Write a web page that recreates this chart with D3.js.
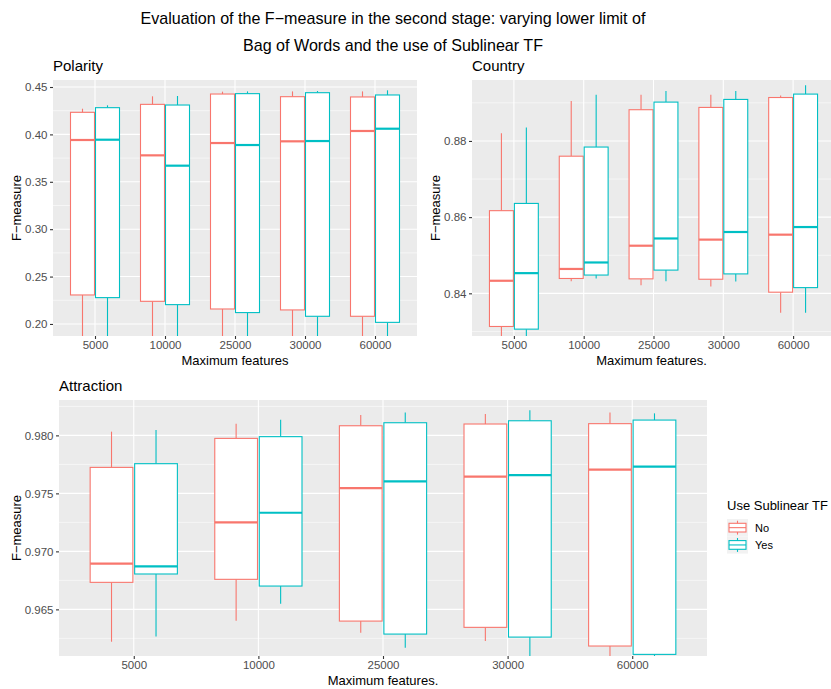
<!DOCTYPE html>
<html>
<head>
<meta charset="utf-8">
<script src="https://cdn.jsdelivr.net/npm/d3@7"></script>
<style>
body { margin: 0; background: #fff; }
svg { display: block; font-family: "Liberation Sans", Arial, sans-serif; }
</style>
</head>
<body>
<svg id="chart" width="831" height="689"></svg>
<script>
// ---- data ----
const categories = ["5000", "10000", "25000", "30000", "60000"];
const groups = ["No", "Yes"];
const colors = ["#F8766D", "#00BFC4"];
// each entry: [lower whisker, q1, median, q3, upper whisker]
const polarityNo = [
  [0.170, 0.2306, 0.3941, 0.4233, 0.4271],
  [0.170, 0.2239, 0.3779, 0.4317, 0.4402],
  [0.170, 0.2158, 0.3909, 0.4426, 0.4451],
  [0.170, 0.2148, 0.3927, 0.4398, 0.4454],
  [0.170, 0.2081, 0.4036, 0.4395, 0.4454]
];
const polarityYes = [
  [0.170, 0.2278, 0.3944, 0.4282, 0.4307],
  [0.170, 0.2204, 0.3670, 0.4310, 0.4405],
  [0.170, 0.2120, 0.3888, 0.4430, 0.4454],
  [0.170, 0.2081, 0.3930, 0.4440, 0.4458],
  [0.170, 0.2017, 0.4060, 0.4416, 0.4465]
];
const countryNo = [
  [0.8260, 0.8313, 0.8433, 0.8617, 0.8820],
  [0.8432, 0.8439, 0.8464, 0.8760, 0.8905],
  [0.8421, 0.8438, 0.8525, 0.8882, 0.8921],
  [0.8418, 0.8437, 0.8541, 0.8888, 0.8921],
  [0.8349, 0.8403, 0.8554, 0.8914, 0.8919]
];
const countryYes = [
  [0.8260, 0.8306, 0.8453, 0.8636, 0.8835],
  [0.8439, 0.8448, 0.8481, 0.8784, 0.8921],
  [0.8432, 0.8461, 0.8544, 0.8902, 0.8931],
  [0.8431, 0.8451, 0.8561, 0.8909, 0.8931],
  [0.8349, 0.8415, 0.8574, 0.8923, 0.8946]
];
const attractionNo = [
  [0.96221, 0.96733, 0.96894, 0.97724, 0.98032],
  [0.96402, 0.96759, 0.97250, 0.97974, 0.98101],
  [0.96299, 0.96399, 0.97546, 0.98083, 0.98175],
  [0.96227, 0.96345, 0.97644, 0.98098, 0.98184],
  [0.96000, 0.96184, 0.97704, 0.98101, 0.98198]
];
const attractionYes = [
  [0.96267, 0.96805, 0.96871, 0.97756, 0.98046],
  [0.96549, 0.96701, 0.97333, 0.97989, 0.98135],
  [0.96169, 0.96287, 0.97603, 0.98109, 0.98198],
  [0.96000, 0.96261, 0.97658, 0.98126, 0.98216],
  [0.96000, 0.96112, 0.97730, 0.98132, 0.98190]
];
const polarityTicks = [0.20, 0.25, 0.30, 0.35, 0.40, 0.45];
const polarityMinor = [0.175, 0.225, 0.275, 0.325, 0.375, 0.425];
const countryTicks = [0.84, 0.86, 0.88];
const countryMinor = [0.83, 0.85, 0.87, 0.89];
const attractionTicks = [0.965, 0.970, 0.975, 0.980];
const attractionMinor = [0.9625, 0.9675, 0.9725, 0.9775, 0.9825];
const titleLines = ["Evaluation of the F\u2212measure in the second stage: varying lower limit of",
                    "Bag of Words and the use of Sublinear TF"];

// ---- drawing ----
const svg = d3.select("#chart");
svg.append("rect").attr("width", 831).attr("height", 689).attr("fill", "#fff");

svg.append("g").selectAll("text").data(titleLines).join("text")
  .attr("x", 393).attr("y", (d, i) => 24 + i * 27)
  .attr("text-anchor", "middle").attr("font-size", 16.1).attr("fill", "#000")
  .text(d => d);

let clipId = 0;
function panel(cfg) {
  const { x0, x1, y0, y1, domain, ticks, minor, fmt, no, yes, title, xTitle, yLabelX } = cfg;
  const g = svg.append("g");
  const x = d3.scalePoint().domain(categories).range([x0, x1]).padding(0.6);
  const y = d3.scaleLinear().domain(domain).range([y1, y0]);
  const step = x.step();
  const sub = d3.scaleBand().domain(groups).range([-0.35 * step, 0.35 * step]).paddingInner(0.04);

  g.append("rect").attr("x", x0).attr("y", y0).attr("width", x1 - x0).attr("height", y1 - y0).attr("fill", "#EBEBEB");
  // minor grid
  g.append("g").selectAll("line").data(minor.filter(v => y(v) >= y0 && y(v) <= y1)).join("line")
    .attr("x1", x0).attr("x2", x1).attr("y1", d => y(d)).attr("y2", d => y(d))
    .attr("stroke", "#fff").attr("stroke-width", 0.55);
  // major grid
  g.append("g").selectAll("line").data(ticks).join("line")
    .attr("x1", x0).attr("x2", x1).attr("y1", d => y(d)).attr("y2", d => y(d))
    .attr("stroke", "#fff").attr("stroke-width", 1.1);
  g.append("g").selectAll("line").data(categories).join("line")
    .attr("x1", d => x(d)).attr("x2", d => x(d)).attr("y1", y0).attr("y2", y1)
    .attr("stroke", "#fff").attr("stroke-width", 1.1);

  const id = "clip" + (clipId++);
  svg.append("clipPath").attr("id", id).append("rect")
    .attr("x", x0).attr("y", y0).attr("width", x1 - x0).attr("height", y1 - y0);
  const boxes = g.append("g").attr("clip-path", `url(#${id})`);
  [no, yes].forEach((series, gi) => {
    const col = colors[gi];
    series.forEach((s, ci) => {
      const cx = x(categories[ci]) + sub(groups[gi]);
      const w = sub.bandwidth();
      const mid = cx + w / 2;
      const bg = boxes.append("g");
      bg.append("line").attr("x1", mid).attr("x2", mid).attr("y1", y(s[4])).attr("y2", y(s[3]))
        .attr("stroke", col).attr("stroke-width", 1.1);
      bg.append("line").attr("x1", mid).attr("x2", mid).attr("y1", y(s[1])).attr("y2", y(s[0]))
        .attr("stroke", col).attr("stroke-width", 1.1);
      bg.append("rect").attr("x", cx).attr("y", y(s[3])).attr("width", w).attr("height", y(s[1]) - y(s[3]))
        .attr("fill", "#fff").attr("stroke", col).attr("stroke-width", 1.1);
      bg.append("line").attr("x1", cx).attr("x2", cx + w).attr("y1", y(s[2])).attr("y2", y(s[2]))
        .attr("stroke", col).attr("stroke-width", 2.2);
    });
  });

  // axes
  const ya = g.append("g").attr("transform", `translate(${x0},0)`)
    .call(d3.axisLeft(y).tickValues(ticks).tickFormat(d3.format(fmt)).tickSize(3).tickPadding(2.5));
  const xa = g.append("g").attr("transform", `translate(0,${y1})`)
    .call(d3.axisBottom(x).tickSize(3).tickPadding(2));
  [ya, xa].forEach(a => {
    a.select(".domain").remove();
    a.selectAll(".tick line").attr("stroke", "#333").attr("stroke-width", 1.1);
    a.selectAll(".tick text").attr("fill", "#4D4D4D").attr("font-size", 11.5)
      .attr("font-family", "Liberation Sans, Arial, sans-serif");
  });

  g.append("text").attr("x", x0).attr("y", y0 - 9).attr("font-size", 15).attr("fill", "#000").text(title);
  g.append("text").attr("x", (x0 + Math.min(x1, 831)) / 2).attr("y", y1 + 29)
    .attr("text-anchor", "middle").attr("font-size", 13).attr("fill", "#000").text(xTitle);
  g.append("text").attr("transform", `translate(${yLabelX},${(y0 + y1) / 2}) rotate(-90)`)
    .attr("text-anchor", "middle").attr("font-size", 13).attr("fill", "#000").text("F\u2212measure");
}

panel({ x0: 53, x1: 417, y0: 80, y1: 336, domain: [0.1873, 0.4574], ticks: polarityTicks, minor: polarityMinor,
  fmt: ".2f", no: polarityNo, yes: polarityYes, title: "Polarity", xTitle: "Maximum features", yLabelX: 21 });
panel({ x0: 472, x1: 835, y0: 80, y1: 336, domain: [0.8288, 0.8960], ticks: countryTicks, minor: countryMinor,
  fmt: ".2f", no: countryNo, yes: countryYes, title: "Country", xTitle: "Maximum features.", yLabelX: 440 });
panel({ x0: 59, x1: 707, y0: 400, y1: 656, domain: [0.96098, 0.98305], ticks: attractionTicks, minor: attractionMinor,
  fmt: ".3f", no: attractionNo, yes: attractionYes, title: "Attraction", xTitle: "Maximum features.", yLabelX: 21 });

// legend
const lg = svg.append("g");
lg.append("text").attr("x", 727).attr("y", 510).attr("font-size", 13).attr("fill", "#000").text("Use Sublinear TF");
groups.forEach((gname, i) => {
  const ky = 519 + i * 17.3;
  const kg = lg.append("g");
  kg.append("rect").attr("x", 727).attr("y", ky).attr("width", 21).attr("height", 17.3).attr("fill", "#F2F2F2");
  const col = colors[i];
  kg.append("line").attr("x1", 737.5).attr("x2", 737.5).attr("y1", ky + 1.7).attr("y2", ky + 15.6)
    .attr("stroke", col).attr("stroke-width", 1.1);
  kg.append("rect").attr("x", 729).attr("y", ky + 4.3).attr("width", 17).attr("height", 8.7)
    .attr("fill", "#fff").attr("stroke", col).attr("stroke-width", 1.1);
  kg.append("line").attr("x1", 729).attr("x2", 746).attr("y1", ky + 8.65).attr("y2", ky + 8.65)
    .attr("stroke", col).attr("stroke-width", 1.1);
  lg.append("text").attr("x", 755).attr("y", ky + 13).attr("font-size", 11).attr("fill", "#000").text(gname);
});
</script>
</body>
</html>
